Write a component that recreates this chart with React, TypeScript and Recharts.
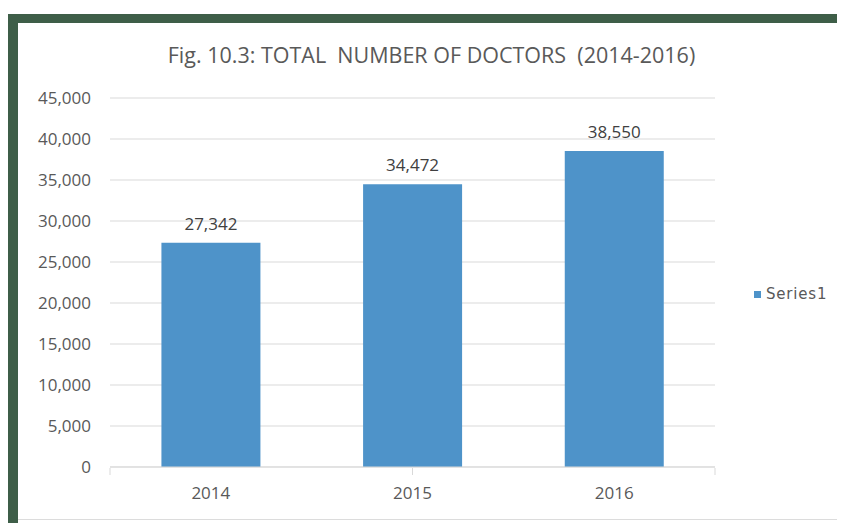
import { BarChart, Bar, XAxis, YAxis, CartesianGrid, LabelList, Legend } from "recharts";

const YEARS = ["2014", "2015", "2016"];
const DOCTORS = [27342, 34472, 38550];
const Y_TICKS = [0, 5000, 10000, 15000, 20000, 25000, 30000, 35000, 40000, 45000];
const EDGE_TICKS = [0, 1, 2, 3];

const FONT = "'Open Sans', 'Noto Sans', sans-serif";
const BLUE = "#4e93c9";
const GREEN = "#3e5e48";

const fmt = (v: number) => v.toLocaleString("en-US");

function LegendBox() {
  return (
    <div style={{ display: "flex", alignItems: "center", fontFamily: "'DejaVu Sans', sans-serif", fontSize: 15, color: "#595959", letterSpacing: 0.8 }}>
      <span style={{ display: "inline-block", width: 7, height: 7, background: BLUE, marginRight: 5 }} />
      Series1
    </div>
  );
}

const EmptyTick = () => <g />;

export default function App() {
  const data = YEARS.map((year, i) => ({ year, value: DOCTORS[i] }));

  return (
    <div style={{ position: "relative", width: 837, height: 515 }}>
      <div style={{ position: "absolute", left: 0, top: 6, width: 10, height: 509, background: GREEN }} />
      <div style={{ position: "absolute", left: 0, top: 6, width: 837, height: 9, background: GREEN }} />
      <div
        style={{
          position: "absolute",
          left: 10,
          top: 15,
          width: 827,
          height: 497,
          background: "#fff",
          borderBottom: "1px solid #dcdcdc",
          boxSizing: "border-box",
        }}
      >
        <div
          style={{
            position: "absolute",
            left: 0,
            top: 17,
            width: 827,
            textAlign: "center",
            fontFamily: FONT,
            fontSize: 21.5,
            color: "#595959",
            whiteSpace: "pre",
          }}
        >
          {"Fig. 10.3: TOTAL  NUMBER OF DOCTORS  (2014-2016)"}
        </div>
        <BarChart
          width={827}
          height={497}
          data={data}
          margin={{ top: 75, right: 130, left: 0, bottom: 51 }}
          barCategoryGap="25.5%"
        >
          <CartesianGrid vertical={false} stroke="#d9d9d9" yAxisId="y" xAxisId="cat" />
          <XAxis
            xAxisId="cat"
            dataKey="year"
            tickLine={false}
            axisLine={{ stroke: "#d9d9d9" }}
            tickSize={0}
            tickMargin={20}
            height={1}
            tick={{ fill: "#595959", fontSize: 17, fontFamily: FONT }}
          />
          <XAxis
            xAxisId="edges"
            type="number"
            domain={[0, 3]}
            ticks={EDGE_TICKS}
            tick={<EmptyTick />}
            axisLine={false}
            tickSize={7}
            tickLine={{ stroke: "#d9d9d9" }}
            height={1}
          />
          <YAxis
            yAxisId="y"
            domain={[0, 45000]}
            ticks={Y_TICKS}
            tickFormatter={fmt}
            axisLine={false}
            tickLine={false}
            tickSize={0}
            tickMargin={19}
            width={92}
            tick={{ fill: "#595959", fontSize: 17, fontFamily: FONT }}
          />
          <Legend
            layout="horizontal"
            align="center"
            verticalAlign="middle"
            content={<LegendBox />}
            wrapperStyle={{ left: 736, top: 262, width: 90 }}
          />
          <Bar dataKey="value" xAxisId="cat" yAxisId="y" fill={BLUE} isAnimationActive={false}>
            <LabelList
              dataKey="value"
              position="top"
              offset={13}
              formatter={(v: any) => fmt(Number(v))}
              style={{ fill: "#404040", fontSize: 17, fontFamily: FONT }}
            />
          </Bar>
        </BarChart>
      </div>
    </div>
  );
}
